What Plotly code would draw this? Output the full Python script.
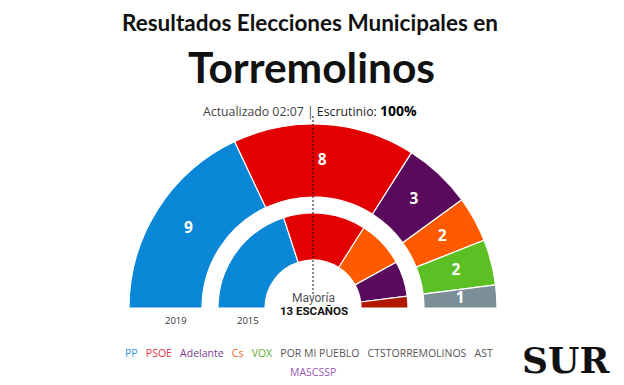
import plotly.graph_objects as go

# ---- data ----
total_seats = 25
majority = 13
parties_2019 = ["PP", "PSOE", "Adelante", "Cs", "VOX", "POR MI PUEBLO"]
seats_2019 = [9, 8, 3, 2, 2, 1]
colors_2019 = ["#0a87d6", "#e30000", "#5a0a5c", "#ff5a00", "#5cbf24", "#7b8f99"]

parties_2015 = ["PP", "PSOE", "Cs", "CSSPTT", "IU"]
seats_2015 = [10, 7, 4, 3, 1]
colors_2015 = ["#0a87d6", "#e30000", "#ff5a00", "#5a0a5c", "#b01800"]

legend_names = ["PP", "PSOE", "Adelante", "Cs", "VOX", "POR MI PUEBLO",
                "CTSTORREMOLINOS", "AST", "MASCSSP"]
legend_colors = ["#2a98d8", "#e8333c", "#7a3b8c", "#f26522", "#5aae32",
                 "#555555", "#555555", "#555555", "#9b59b6"]

# ring radii (radial axis units)
R_MAX = 192
outer_ring = (111, 184)
inner_ring = (48, 95)

OFF = 8  # page body margin
W, H = 624 - OFF, 385 - OFF


def ring_geometry(seats):
    deg_per = 180.0 / total_seats
    centers, widths = [], []
    cum = 0
    for s in seats:
        centers.append((cum + s / 2) * deg_per)
        widths.append(s * deg_per)
        cum += s
    return centers, widths


fig = go.Figure()

for seats, colors, names, (r0, r1) in [
    (seats_2019, colors_2019, parties_2019, outer_ring),
    (seats_2015, colors_2015, parties_2015, inner_ring),
]:
    th, wd = ring_geometry(seats)
    fig.add_trace(go.Barpolar(
        theta=th, width=wd, r=[r1 - r0] * len(seats), base=[r0] * len(seats),
        marker=dict(color=colors, line=dict(color="white", width=1.2)),
        text=names, hoverinfo="text", showlegend=False,
    ))

# seat labels on outer ring
th19, _ = ring_geometry(seats_2019)
fig.add_trace(go.Scatterpolar(
    theta=th19, r=[(outer_ring[0] + outer_ring[1]) / 2] * len(seats_2019),
    mode="text", text=[str(s) for s in seats_2019],
    textfont=dict(family="Open Sans", size=15.5, color="white", weight="bold"),
    hoverinfo="skip", showlegend=False,
))

# majority dashed line
maj_theta = 180.0 * (total_seats / 2) / total_seats
fig.add_trace(go.Scatterpolar(
    theta=[maj_theta, maj_theta], r=[14, R_MAX], mode="lines",
    line=dict(color="#111111", width=1, dash="2px,2px"),
    hoverinfo="skip", showlegend=False,
))


def fx(x):
    return (x - OFF) / W


def fy(y):
    return 1 - (y - OFF) / H


CX, CY = 313, 308
fig.update_layout(
    width=W, height=H, margin=dict(l=0, r=0, t=0, b=0),
    paper_bgcolor="white", plot_bgcolor="white",
    polar=dict(
        domain=dict(x=[fx(CX - R_MAX), fx(CX + R_MAX)], y=[fy(CY), fy(CY - R_MAX)]),
        sector=[0, 180], hole=0, bgcolor="white",
        radialaxis=dict(range=[0, R_MAX], visible=False),
        angularaxis=dict(rotation=180, direction="clockwise", thetaunit="degrees",
                         visible=False),
        barmode="overlay",
    ),
)

annos = []


def add(text, x, y, size, color="#111", family="Lato", bold=False):
    annos.append(dict(text=text, x=fx(x), y=fy(y), xref="paper", yref="paper",
                      showarrow=False, xanchor="center", yanchor="middle",
                      font=dict(family=family, size=size, color=color,
                                weight="bold" if bold else "normal")))


add("Resultados Elecciones Municipales en", 310, 23, 22.5, "#111", "Lato", True)
add("Torremolinos", 311, 66, 42.5, "#111", "Lato", True)
add("<span style='color:#444'>Actualizado 02:07 | </span>Escrutinio: "
    "<b><span style='font-size:14px;color:#000'>100%</span></b>",
    310, 110, 12.3, "#222", "Open Sans")
add("2019", 176, 320, 9.5, "#333", "Open Sans")
add("2015", 248, 320, 9.5, "#333", "Open Sans")
add("Mayoría", 313, 298, 12, "#555", "Roboto")
add("<b>13 ESCAÑOS</b>", 314, 310.5, 11.5, "#111", "Roboto")

items = [f"<span style='color:{c}'>{n}</span>" for n, c in zip(legend_names, legend_colors)]
add("&nbsp;&nbsp;&nbsp;".join(items[:-1]), 309, 353, 10.5, "#555", "Open Sans")
add(items[-1], 313, 372, 10.5, "#555", "Open Sans")
add("<b>SUR</b>", 566, 360, 36, "#111", "DejaVu Serif", True)

fig.update_layout(annotations=annos)
fig.write_html("out.html")
